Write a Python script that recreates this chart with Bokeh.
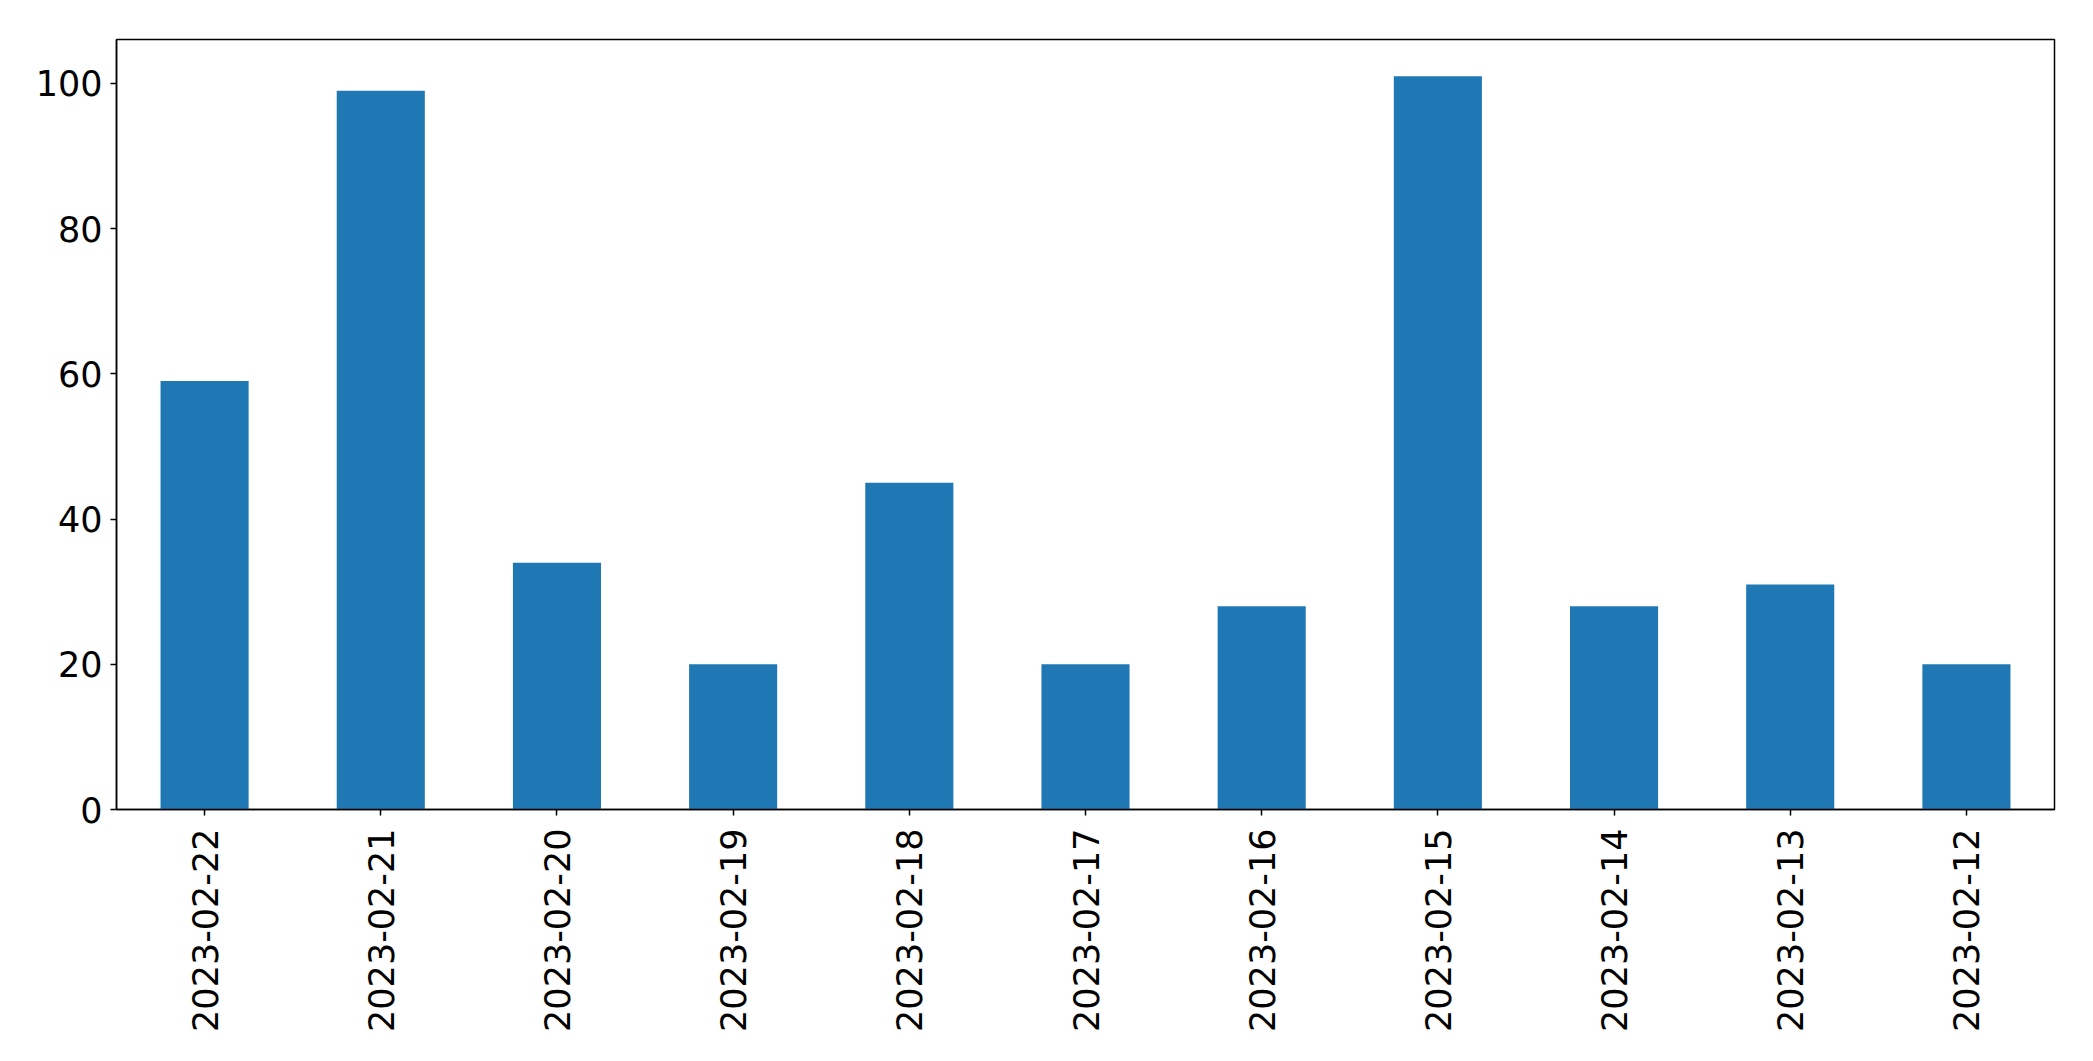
import math
from bokeh.plotting import figure
from bokeh.models import FactorRange, Range1d, FixedTicker, ColumnDataSource
from bokeh.embed import file_html
from bokeh.resources import INLINE

dates = ["2023-02-22", "2023-02-21", "2023-02-20", "2023-02-19", "2023-02-18",
         "2023-02-17", "2023-02-16", "2023-02-15", "2023-02-14", "2023-02-13",
         "2023-02-12"]
counts = [59, 99, 34, 20, 45, 20, 28, 101, 28, 31, 20]
y_ticks = [0, 20, 40, 60, 80, 100]

src = ColumnDataSource(dict(date=dates, count=counts))

p = figure(
    width=2077, height=1045,
    x_range=FactorRange(factors=dates, range_padding=0),
    y_range=Range1d(0, max(counts) * 1.05),
    output_backend="svg", toolbar_location=None,
    min_border_left=116, min_border_right=23,
    min_border_top=39, min_border_bottom=236,
)
p.vbar(x="date", top="count", width=0.5, source=src,
       fill_color="#1f77b4", line_color=None)

p.xgrid.visible = False
p.ygrid.visible = False
p.outline_line_color = "black"
p.outline_line_width = 1.5
p.outline_line_alpha = 1.0

p.yaxis.ticker = FixedTicker(ticks=y_ticks)
for ax in (p.xaxis, p.yaxis):
    ax.axis_line_color = "black"
    ax.axis_line_width = 1.5
    ax.major_tick_line_color = "black"
    ax.major_tick_line_width = 1.5
    ax.major_tick_out = 6
    ax.major_tick_in = 0
    ax.minor_tick_line_color = None
    ax.major_label_text_font = "DejaVu Sans"
    ax.major_label_text_font_size = "35px"
    ax.major_label_text_color = "black"
    ax.major_label_standoff = 8

p.xaxis.major_label_orientation = math.pi / 2
p.xaxis.major_label_standoff = 13

open("out.html", "w").write(file_html(p, INLINE))
